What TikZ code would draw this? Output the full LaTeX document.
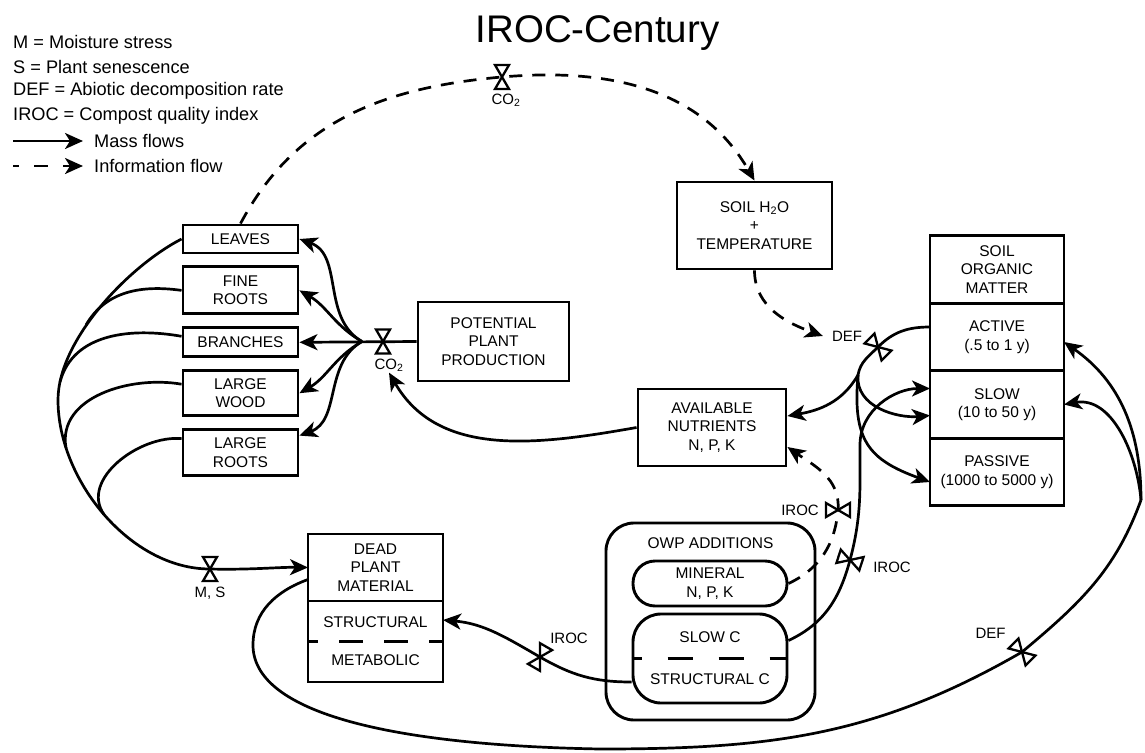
\documentclass[tikz,border=0pt]{standalone}
\usepackage{fontspec}
\setmainfont{Liberation Sans}
\usepackage{tikz}
\usetikzlibrary{arrows.meta,positioning}
\tikzstyle{block}=[draw, rectangle, line width=2.9pt, align=center, inner sep=0pt, font=\fontsize{15.5}{18.5}\selectfont]
\tikzstyle{pool}=[block, outer sep=0pt, minimum width=134pt, minimum height=67.5pt]
\tikzstyle{plant}=[block, minimum width=115pt]
\tikzstyle{lbl}=[font=\fontsize{15}{17}\selectfont, inner sep=1pt]
\tikzstyle{keytext}=[font=\fontsize{18.2}{21}\selectfont, inner sep=0pt, anchor=west]
\tikzstyle{flow}=[line width=2.7pt]
\tikzstyle{info}=[line width=2.7pt, dash pattern=on 13pt off 10pt]
\tikzstyle{divider}=[line width=2.9pt, dash pattern=on 24pt off 21pt]
\tikzset{valve/.pic={\draw[line width=2.3pt, fill=white] (-7,12) -- (7,12) -- (0,0) -- cycle (-7,-12) -- (7,-12) -- (0,0) -- cycle;}}

\begin{document}
\begin{tikzpicture}[x=1pt, y=1pt, node distance=11pt, >={Stealth[length=18pt,width=16pt,inset=5pt]}]
    \useasboundingbox (0,0) rectangle (1145,-752);

    % title and key
    \node[font=\fontsize{38.5}{40}\selectfont, anchor=base] (title) at (597.5,-43) {IROC-Century};
    \node[keytext] (keym) at (13,-42) {M = Moisture stress};
    \node[keytext] (keys) at (13,-67) {S = Plant senescence};
    \node[keytext] (keydef) at (13,-91) {DEF = Abiotic decomposition rate};
    \node[keytext] (keyiroc) at (13,-116) {IROC = Compost quality index};
    \node[keytext] (keymass) at (94,-141) {Mass flows};
    \node[keytext] (keyinfo) at (94,-166) {Information flow};
    \coordinate (keymass0) at (13,-141);
    \coordinate (keyinfo0) at (13,-166);
    \draw[flow,->] (keymass0) -- ([xshift=-11pt]keymass.west);
    \draw[flow,->, dash pattern=on 14pt off 15pt, dash phase=8pt] (keyinfo0) -- ([xshift=-11pt]keyinfo.west);

    % plant pools
    \node[plant, minimum height=28pt] (leaves) at (240.5,-239) {LEAVES};
    \node[plant, minimum height=47pt, below=of leaves] (fine) {FINE\\ROOTS};
    \node[plant, minimum height=29pt, below=of fine] (branches) {BRANCHES};
    \node[plant, minimum height=45pt, below=of branches] (lwood) {LARGE\\WOOD};
    \node[plant, minimum height=46pt, below=of lwood] (lroots) {LARGE\\ROOTS};
    \node[block, minimum width=151pt, minimum height=79pt] (ppp) at (493.5,-341.5) {POTENTIAL\\PLANT\\PRODUCTION};
    \node[block, minimum width=155pt, minimum height=87pt] (soilw) at (754.5,-225.5) {SOIL H\textsubscript{2}O\\+\\TEMPERATURE};
    \node[block, minimum width=148pt, minimum height=77pt] (avail) at (712,-427.5) {AVAILABLE\\NUTRIENTS\\N, P, K};

    % soil organic matter
    \node[pool] (som) at (997,-269.5) {SOIL\\ORGANIC\\MATTER};
    \node[pool, below=0pt of som] (active) {ACTIVE\\(.5 to 1 y)};
    \node[pool, below=0pt of active] (slow) {SLOW\\(10 to 50 y)};
    \node[pool, below=0pt of slow] (passive) {PASSIVE\\(1000 to 5000 y)};

    % dead plant material
    \node[block, outer sep=0pt, minimum width=135pt, minimum height=67pt] (dead) at (375.5,-567.5) {DEAD\\PLANT\\MATERIAL};
    \node[block, outer sep=0pt, minimum width=135pt, minimum height=81pt, below=0pt of dead] (litter) {STRUCTURAL\\[19.5pt]METABOLIC};
    \draw[divider, dash phase=14pt] (litter.west) -- (litter.east);

    % owp additions
    \node[draw, line width=2.9pt, rounded corners=28pt, minimum width=209pt, minimum height=197pt] (owp) at (710.5,-621.5) {};
    \node[block, draw=none] (owptitle) at (710.5,-543) {OWP ADDITIONS};
    \node[block, rounded corners=22pt, minimum width=154pt, minimum height=45pt] (mineral) at (710,-583.5) {MINERAL\\N, P, K};
    \node[block, rounded corners=28pt, minimum width=154pt, minimum height=89pt] (owpc) at (710,-658.5) {SLOW C\\[23.5pt]STRUCTURAL C};
    \draw[divider, dash pattern=on 25pt off 26pt, dash phase=15pt] (owpc.west) -- (owpc.east);

    % valve labels
    \node[lbl] (co2top) at (506,-100) {CO\textsubscript{2}};
    \node[lbl] (co2low) at (389,-365) {CO\textsubscript{2}};
    \node[lbl] (ms) at (210,-593) {M, S};
    \node[lbl] (def) at (847,-336) {DEF};
    \node[lbl] (def2) at (990.5,-633) {DEF};
    \node[lbl] (iroca) at (800,-510) {IROC};
    \node[lbl] (irocb) at (892,-567) {IROC};
    \node[lbl] (irocc) at (569,-638) {IROC};

    \coordinate (co2v) at (502,-77);
    \coordinate (co2p) at (383,-341.5);
    \coordinate (fork) at (362,-341.5);
    \coordinate (arcw) at (58,-400);
    \coordinate (msv) at (210,-569);
    \coordinate (mfine) at (86,-325);
    \coordinate (mbranch) at (60,-382);
    \coordinate (mwood) at (66,-448);
    \coordinate (mroots) at (104,-514.5);
    \coordinate (defv) at (878,-347);
    \coordinate (split) at (858,-375);
    \coordinate (irocv1) at (838,-510);
    \coordinate (irocv2) at (850,-560);
    \coordinate (col) at (860,-445);
    \coordinate (irocv3) at (540,-657);
    \coordinate (bend) at (253,-645);
    \coordinate (low) at (600,-749);
    \coordinate (defv2) at (1022,-652);
    \coordinate (rsplit) at (1141,-500);

    % production to plant pools
    \draw[flow,->] (ppp.west) -- (branches.east);
    \draw[flow,->] (fork) to[out=150, in=-20] (leaves.east);
    \draw[flow,->] (fork) to[out=150, in=-30] (fine.east);
    \draw[flow,->] (fork) to[out=210, in=30] (lwood.east);
    \draw[flow,->] (fork) to[out=210, in=20] ([yshift=17pt]lroots.east);

    % litter fall
    \draw[flow,->] (leaves.west) .. controls (129,-266) and (58,-340) .. (arcw) .. controls (58,-480) and (130,-569) .. (msv) .. controls (250,-570) and (280,-567) .. (dead.west);
    \draw[flow] (fine.west) to[out=172, in=60] (mfine);
    \draw[flow] ([yshift=6pt]branches.west) to[out=170, in=75] (mbranch);
    \draw[flow] ([yshift=9pt]lwood.west) to[out=170, in=100] (mwood);
    \draw[flow] ([yshift=14pt]lroots.west) to[out=175, in=125] (mroots);

    % information flows
    \draw[info,->] (leaves.north) to[out=62, in=185] (co2v) to[out=5, in=120] (soilw.north);
    \draw[info,->] (soilw.south) to[out=-90, in=160] ([xshift=-8pt]def.west);
    \draw[info,->] (mineral.east) to[out=25, in=-95] (irocv1) to[out=85, in=-35] ([yshift=-19.5pt]avail.east);

    % decomposition
    \draw[flow] ([yshift=10pt]active.west) to[out=180, in=45] (defv) to[out=225, in=80] (split);
    \draw[flow,->] (split) to[out=240, in=10] ([yshift=11.5pt]avail.east);
    \draw[flow,->] (split) to[out=265, in=185] ([yshift=-11pt]slow.west);
    \draw[flow,->] (split) to[out=265, in=160, looseness=1.3] ([yshift=-10pt]passive.west);
    \draw[flow,->] (avail.west) to[out=190, in=-60] (co2low.south);
    \draw[flow,->] ([yshift=18pt]owpc.east) to[out=25, in=-105] (irocv2) to[out=75, in=-90] (col) to[out=90, in=180] ([yshift=16pt]slow.west);
    \draw[flow,->] ([yshift=-23.5pt]owpc.west) to[out=180, in=-30] (irocv3) to[out=150, in=-5] ([yshift=21.5pt]litter.east);
    \draw[flow] ([yshift=-12pt]dead.west) to[out=200, in=90] (bend) .. controls (253,-710) and (380,-745) .. (low) to[out=0, in=210] (defv2) to[out=40, in=-110] (rsplit);
    \draw[flow,->] (rsplit) to[out=90, in=-35] ([yshift=-5pt]active.east);
    \draw[flow,->] (rsplit) to[out=95, in=10] (slow.east);

    % valves
    \pic at (co2v) {valve};
    \pic at (co2p) {valve};
    \pic at (msv) {valve};
    \pic[rotate=45] at (defv) {valve};
    \pic[rotate=45] at (defv2) {valve};
    \pic[rotate=90] at (irocv1) {valve};
    \pic[rotate=72] at (irocv2) {valve};
    \pic[rotate=-30] at (irocv3) {valve};
\end{tikzpicture}
\end{document}
